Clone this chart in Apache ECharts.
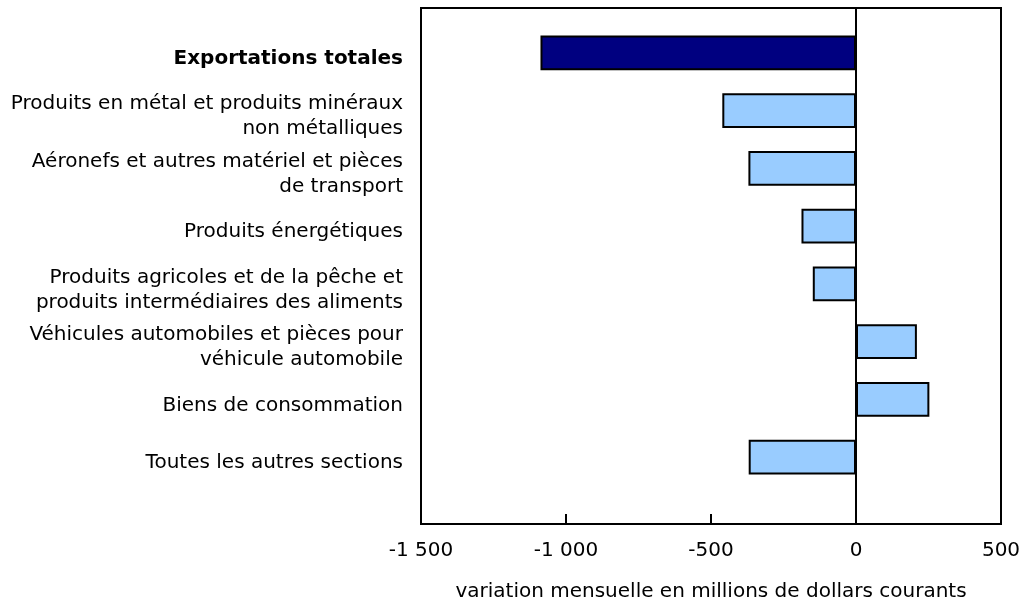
<!DOCTYPE html>
<html>
<head>
<meta charset="utf-8">
<script src="https://cdn.jsdelivr.net/npm/echarts@6/dist/echarts.min.js"></script>
<style>html,body{margin:0;padding:0;background:#fff;}#c{width:1023px;height:601px;}</style>
</head>
<body>
<div id="c"></div>
<script>
const categories = [
  "Exportations totales",
  "Produits en métal et produits minéraux\nnon métalliques",
  "Aéronefs et autres matériel et pièces\nde transport",
  "Produits énergétiques",
  "Produits agricoles et de la pêche et\nproduits intermédiaires des aliments",
  "Véhicules automobiles et pièces pour\nvéhicule automobile",
  "Biens de consommation",
  "Toutes les autres sections"
];
const values = [-1088, -461, -371, -188, -149, 210, 253, -370];
const xTicks = [-1500, -1000, -500, 0, 500];
const axisTitle = "variation mensuelle en millions de dollars courants";

const FONT = "DejaVu Sans, Verdana, sans-serif";
function fmt(v) {
  const s = Math.abs(v).toString().replace(/\B(?=(\d{3})+(?!\d))/g, " ");
  return (v < 0 ? "-" : "") + s;
}
const chart = echarts.init(document.getElementById('c'), null, {renderer: 'canvas'});
chart.setOption({
  animation: false,
  backgroundColor: '#fff',
  grid: [
    {left: 421, width: 580, top: 24, height: 462, show: false, containLabel: false, outerBoundsMode: 'none'},
    {left: 421, width: 580, top: 8, height: 516, show: true, borderColor: '#000', borderWidth: 2, backgroundColor: 'transparent', containLabel: false, outerBoundsMode: 'none'}
  ],
  xAxis: [
    {gridIndex: 0, type: 'value', min: xTicks[0], max: xTicks[xTicks.length-1], interval: 500, show: false},
    {gridIndex: 1, type: 'value', min: xTicks[0], max: xTicks[xTicks.length-1], interval: 500,
     axisLine: {show: true, onZero: false, lineStyle: {color: '#000', width: 2}},
     axisTick: {show: true, inside: true, length: 10, lineStyle: {color: '#000', width: 2}},
     splitLine: {show: false},
     axisLabel: {color: '#000', fontFamily: FONT, fontSize: 20, margin: 17, formatter: fmt},
     name: axisTitle, nameLocation: 'middle', nameGap: 58,
     nameTextStyle: {color: '#000', fontFamily: FONT, fontSize: 20}}
  ],
  yAxis: [
    {gridIndex: 0, type: 'category', data: categories, inverse: true,
     axisLine: {show: false}, axisTick: {show: false}, splitLine: {show: false},
     axisLabel: {color: '#000', fontFamily: FONT, fontSize: 20, lineHeight: 25, margin: 18, align: 'right',
       padding: [12, 0, 0, 0],
       formatter: function (v, i) { return i === 0 ? '{b|' + v + '}' : v; },
       rich: {b: {fontWeight: 'bold', fontFamily: FONT, fontSize: 20, lineHeight: 25, color: '#000'}}}},
    {gridIndex: 1, type: 'value', min: 0, max: 1,
     axisLine: {show: true, onZero: true, lineStyle: {color: '#000', width: 2}},
     axisTick: {show: false}, axisLabel: {show: false}, splitLine: {show: false}}
  ],
  series: [{
    type: 'bar', xAxisIndex: 0, yAxisIndex: 0,
    barWidth: '60%',
    data: values.map((v, i) => ({value: v, itemStyle: {color: i === 0 ? '#000080' : '#99CCFF'}})),
    itemStyle: {borderColor: '#000', borderWidth: 2},
    z: 1
  }]
});
</script>
</body>
</html>
